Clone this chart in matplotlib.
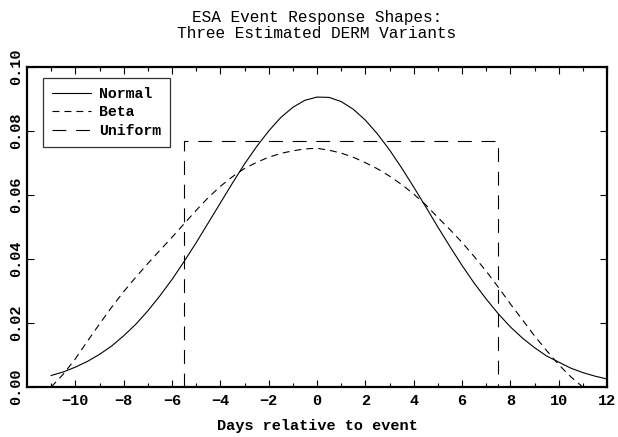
import matplotlib.pyplot as plt
import numpy as np

# values (half-day steps)
days = [-11, -10.5, -10, -9.5, -9, -8.5, -8, -7.5, -7, -6.5, -6, -5.5, -5,
        -4.5, -4, -3.5, -3, -2.5, -2, -1.5, -1, -0.5, 0, 0.5, 1, 1.5, 2,
        2.5, 3, 3.5, 4, 4.5, 5, 5.5, 6, 6.5, 7, 7.5, 8, 8.5, 9, 9.5, 10,
        10.5, 11, 11.5, 12]
normal = [0.0036, 0.0047, 0.0062, 0.0080, 0.0102, 0.0128, 0.0160, 0.0196,
          0.0238, 0.0285, 0.0336, 0.0392, 0.0451, 0.0513, 0.0575, 0.0637,
          0.0697, 0.0751, 0.0800, 0.0842, 0.0874, 0.0896, 0.0906, 0.0905,
          0.0892, 0.0868, 0.0834, 0.0791, 0.0741, 0.0685, 0.0625, 0.0563,
          0.0500, 0.0439, 0.0380, 0.0325, 0.0275, 0.0229, 0.0188, 0.0153,
          0.0123, 0.0097, 0.0078, 0.0059, 0.0045, 0.0034, 0.0025]

beta_days = [-11, -10.5, -10, -9.5, -9, -8.5, -8, -7.5, -7, -6.5, -6, -5.5,
             -5, -4.5, -4, -3.5, -3, -2.5, -2, -1.5, -1, -0.5, 0, 0.5, 1,
             1.5, 2, 2.5, 3, 3.5, 4, 4.5, 5, 5.5, 6, 6.5, 7, 7.5, 8, 8.5, 9,
             9.5, 10, 10.5, 11]
beta = [0.0, 0.0040, 0.0088, 0.0143, 0.0197, 0.0249, 0.0298, 0.0343,
        0.0386, 0.0427, 0.0468, 0.0510, 0.0552, 0.0592, 0.0627, 0.0657,
        0.0683, 0.0702, 0.0718, 0.0730, 0.0738, 0.0744, 0.0746, 0.0740,
        0.0731, 0.0718, 0.0701, 0.0682, 0.0659, 0.0633, 0.0603, 0.0569,
        0.0530, 0.0492, 0.0452, 0.0408, 0.0362, 0.0312, 0.0260, 0.0210,
        0.0160, 0.0114, 0.0070, 0.0032, 0.0]

unif_days = [-5.5, -5.5, 7.5, 7.5]
unif = [0.0, 0.077, 0.077, 0.0]

plt.rcParams['font.family'] = 'Liberation Mono'
plt.rcParams['lines.scale_dashes'] = False

fig = plt.figure(figsize=(6.18, 4.37), dpi=100)
ax = fig.add_axes([0.0437, 0.1144, 0.9385, 0.7323])

ax.plot(days, normal, color='black', lw=0.8, label='Normal')
ax.plot(beta_days, beta, color='black', lw=0.8, dashes=(5, 3.6), label='Beta')
ax.plot(unif_days, unif, color='black', lw=0.8, dashes=(10, 7), label='Uniform')

ax.set_xlim(-12, 12)
ax.set_ylim(0, 0.1)
ax.set_xticks(np.arange(-10, 13, 2))
ax.set_xticks(np.arange(-11, 13, 1), minor=True)
ax.set_yticks(np.arange(0, 0.101, 0.02))
ax.set_yticklabels(['0.00', '0.02', '0.04', '0.06', '0.08', '0.10'],
                   rotation=90, va='center', fontweight='bold', fontsize=11)
ax.set_xticklabels(['\u221210', '\u22128', '\u22126', '\u22124', '\u22122', '0',
                    '2', '4', '6', '8', '10', '12'], fontweight='bold', fontsize=11)
ax.tick_params(which='both', direction='in', top=True, right=True, color='black')
ax.tick_params(which='major', length=5, width=0.8, pad=5)
ax.tick_params(which='minor', length=3, width=0.8)
ax.tick_params(axis='y', pad=3)
for s in ax.spines.values():
    s.set_linewidth(1.6)

ax.set_xlabel('Days relative to event', fontweight='bold', fontsize=11, labelpad=8)
ax.set_title('ESA Event Response Shapes:\nThree Estimated DERM Variants',
             fontsize=11.6, pad=21, linespacing=1.08)

leg = ax.legend(loc='upper left', bbox_to_anchor=(0.0276, 0.966), frameon=True,
                fancybox=False, edgecolor='black', handlelength=2.6,
                handletextpad=0.55, borderaxespad=0,
                prop={'weight': 'bold', 'size': 10.7}, borderpad=0.6,
                labelspacing=0.3)
leg.get_frame().set_linewidth(0.9)

fig.savefig('out.png', dpi=100)
